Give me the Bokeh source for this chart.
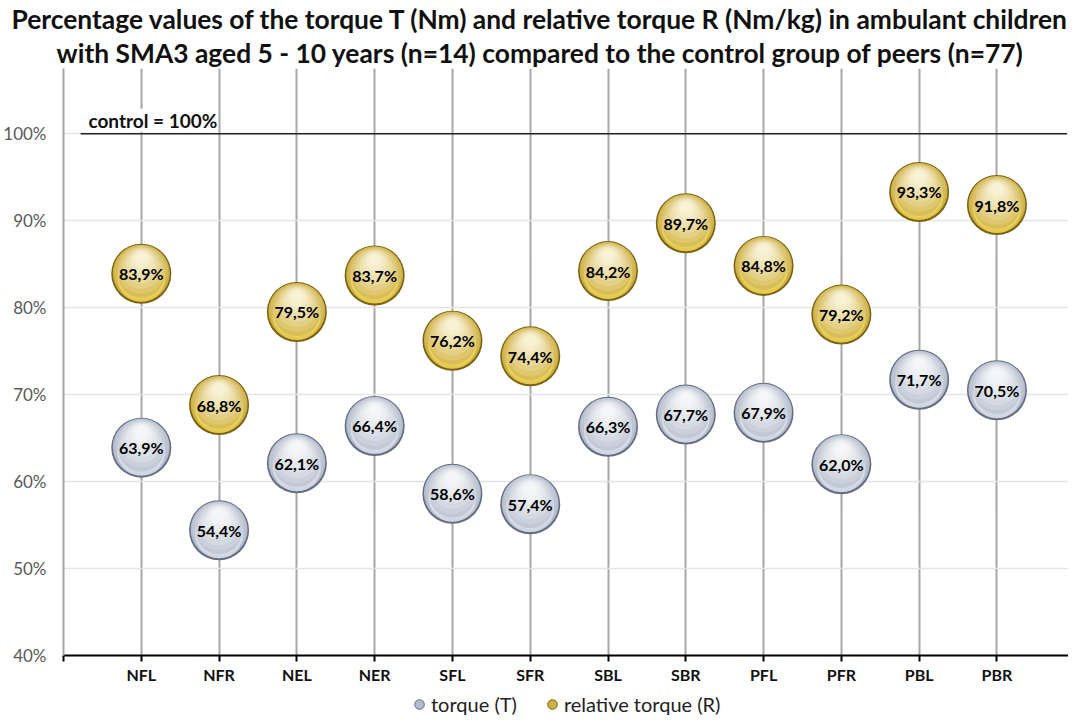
from bokeh.plotting import figure
from bokeh.layouts import column
from bokeh.models import (Range1d, FixedTicker, Title, Legend, LegendItem, Label,
                          ColumnDataSource, NumeralTickFormatter)
from bokeh.transform import dodge
from bokeh.core.properties import value
from bokeh.embed import file_html
from bokeh.resources import INLINE

# ---------------- data ----------------
categories = ["NFL", "NFR", "NEL", "NER", "SFL", "SFR",
              "SBL", "SBR", "PFL", "PFR", "PBL", "PBR"]
torque = [63.9, 54.4, 62.1, 66.4, 58.6, 57.4, 66.3, 67.7, 67.9, 62.0, 71.7, 70.5]
relative_torque = [83.9, 68.8, 79.5, 83.7, 76.2, 74.4, 84.2, 89.7, 84.8, 79.2, 93.3, 91.8]
control = 100
y_ticks = [40, 50, 60, 70, 80, 90, 100]
title_lines = [
    "Percentage values of the torque T (Nm) and relative torque R (Nm/kg) in ambulant children",
    "with SMA3 aged 5 - 10 years (n=14) compared to the control group of peers (n=77)",
]
series_names = ["torque (T)", "relative torque (R)"]
control_text = "control = 100%"

FONT = "Lato"
positions = list(range(1, len(categories) + 1))


def fmt(v):
    return f"{v:.1f}".replace(".", ",") + "%"


p = figure(width=1068, height=686, output_backend="svg", toolbar_location=None,
           x_range=Range1d(0, len(categories) + 0.92), y_range=Range1d(40, 107.5),
           min_border_left=50, min_border_right=0, min_border_top=0, min_border_bottom=0,
           background_fill_color="white", border_fill_color="white")
p.outline_line_color = None

# titles (later added = farther from plot)
title_offsets = [-52, -7]
for line, off in reversed(list(zip(title_lines, title_offsets))):
    t = Title(text=line, align="left", text_font=FONT, text_font_size="26.4px",
              text_font_style="bold", text_color="#111111", offset=off, standoff=0)
    p.add_layout(t, "above")

# axes
p.xaxis.ticker = FixedTicker(ticks=list(range(0, len(categories) + 2)))
overrides = {0: "", len(categories) + 1: ""}
for pos, c in zip(positions, categories):
    overrides[pos] = c
p.xaxis.major_label_overrides = overrides
p.xaxis.axis_line_color = "black"
p.xaxis.axis_line_width = 2
p.xaxis.major_tick_line_color = "black"
p.xaxis.major_tick_line_width = 2
p.xaxis.major_tick_out = 6
p.xaxis.major_tick_in = 0
p.xaxis.minor_tick_line_color = None
p.xaxis.major_label_text_font = FONT
p.xaxis.major_label_text_font_size = "16px"
p.xaxis.major_label_text_font_style = "bold"
p.xaxis.major_label_text_color = "#111111"
p.xaxis.major_label_standoff = 3

p.yaxis.ticker = FixedTicker(ticks=y_ticks)
p.yaxis.formatter = NumeralTickFormatter(format="0")
p.yaxis.major_label_overrides = {v: f"{v}%" for v in y_ticks}
p.yaxis.axis_line_color = "#a6a6a6"
p.yaxis.axis_line_width = 2
p.yaxis.major_tick_line_color = None
p.yaxis.minor_tick_line_color = None
p.yaxis.major_label_text_font = FONT
p.yaxis.major_label_text_font_size = "17px"
p.yaxis.major_label_text_color = "#595959"
p.yaxis.major_label_standoff = 11

p.xgrid.ticker = FixedTicker(ticks=list(range(0, len(categories) + 2)))
p.xgrid.grid_line_color = "#a6a6a6"
p.xgrid.grid_line_width = 2
p.ygrid.ticker = FixedTicker(ticks=y_ticks[1:])
p.ygrid.grid_line_color = "#e4e4e4"
p.ygrid.grid_line_width = 1.5

# control line
p.segment(x0=[0.22], x1=[len(categories) + 0.9], y0=[control], y1=[control],
          line_color="#222222", line_width=1.5)
p.add_layout(Label(x=0.32, y=control, text=control_text, text_font=FONT,
                   text_font_size="19px", text_font_style="bold", text_color="#111111",
                   text_baseline="bottom", y_offset=2,
                   background_fill_color="white"))

# spheres
px = 10.0 / 86.7  # data units per pixel in y (approx) for shading offsets

styles = {
    "torque": dict(edge="#636c82", body="#b3bccb", glow="#e4e9f1", low="#a9b3c4", hi="white"),
    "relative": dict(edge="#7a6212", body="#cdb043", glow="#f7dc55", low="#c4a637", hi="#fffbea"),
}

# legend strip under the chart
lg = figure(width=1068, height=31, output_backend="svg", toolbar_location=None,
            x_range=Range1d(0, 1), y_range=Range1d(0, 1),
            x_axis_location=None, y_axis_location=None,
            min_border_left=0, min_border_right=0, min_border_top=0, min_border_bottom=0,
            background_fill_color="white", border_fill_color="white")
lg.outline_line_color = None
lg.grid.visible = False

legend_items = []
for key, vals, name in [("torque", torque, series_names[0]),
                        ("relative", relative_torque, series_names[1])]:
    st = styles[key]
    src = ColumnDataSource(dict(x=positions, y=vals, label=[fmt(v) for v in vals]))
    p.scatter("x", "y", source=src, size=60, fill_color=st["edge"], line_color=None)
    p.scatter("x", dodge("y", 0.6 * px), source=src, size=57, fill_color=st["body"],
              line_color=None)
    # bottom reflection
    p.scatter("x", dodge("y", -4 * px), source=src, size=48, fill_color=st["glow"],
              fill_alpha=0.6, line_color=None)
    p.scatter("x", dodge("y", -1 * px), source=src, size=46, fill_color=st["low"],
              fill_alpha=0.6, line_color=None)
    # top highlights
    for s, off, a in [(54, 2, 0.14), (48, 4, 0.16), (42, 6, 0.18), (36, 8, 0.2),
                      (30, 10, 0.24), (24, 12, 0.26), (18, 14, 0.3), (12, 16, 0.35)]:
        p.scatter("x", dodge("y", off * px), source=src, size=s, fill_color=st["hi"],
                  fill_alpha=a, line_color=None)
    p.text("x", "y", text="label", source=src, text_align="center",
           text_baseline="middle", text_font=value(FONT), text_font_size="16px",
           text_font_style="bold", text_color="black")
    # legend marker renderer (placed outside the visible range of the strip)
    lsrc = ColumnDataSource(dict(x=[-1], y=[-1]))
    mk = lg.scatter("x", "y", source=lsrc, size=10, fill_color=st["body"],
                    line_color=st["edge"], line_width=1)
    legend_items.append(LegendItem(label=name, renderers=[mk]))

legend = Legend(items=legend_items, orientation="horizontal", location=(344, 1),
                border_line_color=None, background_fill_alpha=0,
                label_text_font=FONT, label_text_font_size="20px",
                label_text_color="#222222", glyph_width=24, glyph_height=24,
                label_standoff=0, spacing=23, padding=0, margin=0)
lg.add_layout(legend)

layout = column(p, lg, spacing=0)
open("out.html", "w").write(file_html(layout, INLINE))
